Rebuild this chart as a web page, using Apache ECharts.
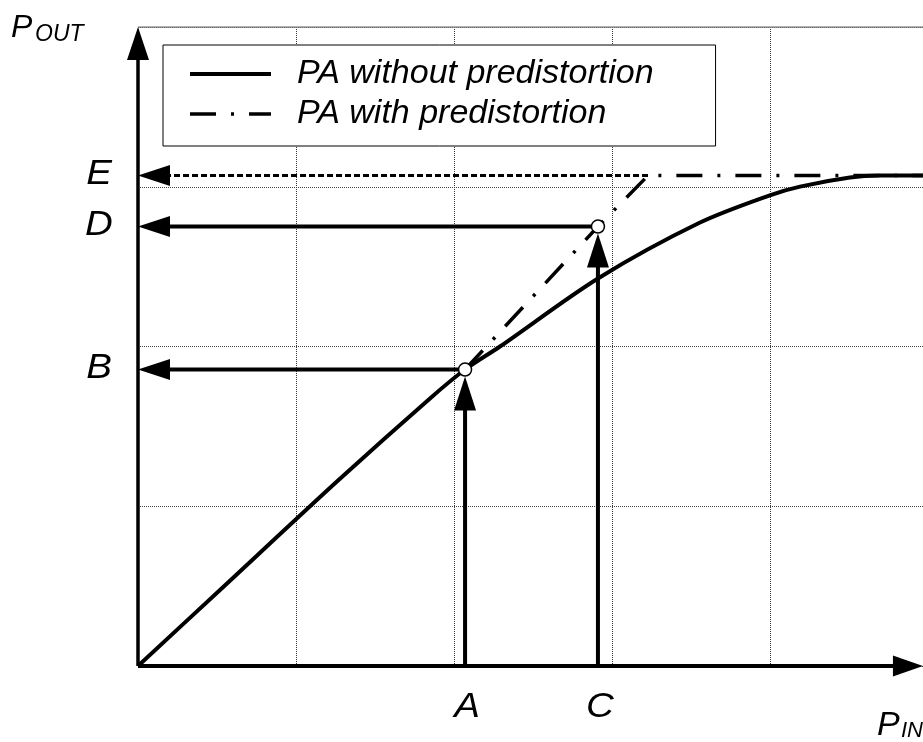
<!DOCTYPE html>
<html><head><meta charset="utf-8">
<script src="https://cdn.jsdelivr.net/npm/echarts@6/dist/echarts.min.js"></script>
<style>html,body{margin:0;padding:0;background:#fff}#c{width:923px;height:742px}</style>
</head><body><div id="c"></div><script>
// ---- data (grid units: one dotted cell = 1) ----
const seriesNames = ['PA without predistortion', 'PA with predistortion'];
const pinWithout  = [0, 0.519, 1.266, 1.848, 2.070, 2.291, 2.911, 3.557, 3.994, 4.190, 4.506, 4.696, 4.968];
const poutWithout = [0, 0.476, 1.161, 1.675, 1.856, 2.000, 2.426, 2.776, 2.945, 3.001, 3.058, 3.070, 3.070];
const pinWith  = [2.070, 2.911, 3.228, 4.968];
const poutWith = [1.856, 2.751, 3.070, 3.070];
const inputMarks  = ['A', 'C'];
const inputLevels = [2.070, 2.911];
const outputMarks  = ['B', 'D', 'E'];
const outputLevels = [1.856, 2.751, 3.070];
const outputFrom   = [2.070, 2.911, 3.228];
const xMax = 5, yMax = 4, xArrowEnd = 4.968;

const zip = (a, b) => a.map((v, i) => [v, b[i]]);

// arrows: axes, vertical input arrows, horizontal output arrows
const arrows = [
  [0, 0, xArrowEnd, 0],
  [0, 0, 0, yMax],
  ...inputLevels.map((x, i) => [x, 0, x, outputLevels[i]]),
  ...outputLevels.map((y, i) => [outputFrom[i], y, 0, y])
];
const arrowStyles = [
  {w: 4,   head: 30, half: 10.5, gap: 0},
  {w: 3.5, head: 33, half: 11,   gap: 0},
  {w: 4,   head: 34, half: 11,   gap: 7},
  {w: 4,   head: 34, half: 11,   gap: 7},
  {w: 4,   head: 32, half: 10.5, gap: 0},
  {w: 4,   head: 32, half: 10.5, gap: 0},
  {w: 3,   head: 32, half: 10.5, gap: 0, dash: [6, 3]}
];

const FONT = '"Liberation Sans", Arial, Helvetica, sans-serif';

function renderArrow(params, api) {
  const s = arrowStyles[params.dataIndex];
  const p1 = api.coord([api.value(0), api.value(1)]);
  const p2 = api.coord([api.value(2), api.value(3)]);
  const dx = p2[0] - p1[0], dy = p2[1] - p1[1];
  const len = Math.hypot(dx, dy), ux = dx / len, uy = dy / len;
  const tip = [p2[0] - ux * s.gap, p2[1] - uy * s.gap];
  const base = [tip[0] - ux * s.head, tip[1] - uy * s.head];
  const nx = -uy, ny = ux;
  return {type: 'group', children: [
    {type: 'line', shape: {x1: p1[0], y1: p1[1], x2: base[0] + ux * 2, y2: base[1] + uy * 2},
     style: {stroke: '#000', lineWidth: s.w, lineDash: s.dash || null, fill: null}},
    {type: 'polygon', shape: {points: [tip, [base[0] + nx * s.half, base[1] + ny * s.half], [base[0] - nx * s.half, base[1] - ny * s.half]]},
     style: {fill: '#000'}}
  ]};
}

const labelData = [
  ...inputLevels.map((x, i) => [x, 0, 0, i]),
  ...outputLevels.map((y, i) => [0, y, 1, i])
];
function renderLabel(params, api) {
  const kind = api.value(2), idx = api.value(3);
  const p = api.coord([api.value(0), api.value(1)]);
  const text = kind === 0 ? inputMarks[idx] : outputMarks[idx];
  const x = kind === 0 ? p[0] + 2 : p[0] - 39;
  const y = kind === 0 ? p[1] + 41 : p[1] - 1;
  return {type: 'text', x: x, y: y, scaleX: 1.1,
    style: {text: text, font: 'italic 35px ' + FONT, fill: '#000', align: 'center', verticalAlign: 'middle'}};
}

const chart = echarts.init(document.getElementById('c'), null, {renderer: 'canvas'});
chart.setOption({
  animation: false,
  backgroundColor: '#fff',
  grid: {left: 138, width: 790, top: 27, bottom: 76, containLabel: false, outerBoundsMode: 'none'},
  xAxis: {type: 'value', min: 0, max: xMax, interval: 1,
    axisLine: {show: false}, axisTick: {show: false}, axisLabel: {show: false},
    splitLine: {show: true, lineStyle: {color: '#333', width: 1, type: [1, 1]}}},
  yAxis: {type: 'value', min: 0, max: yMax, interval: 1,
    axisLine: {show: false}, axisTick: {show: false}, axisLabel: {show: false},
    splitLine: {show: true, lineStyle: {color: '#444', width: 1, type: [1, 1]}}},
  legend: {
    data: seriesNames, orient: 'vertical', left: 163, top: 45,
    backgroundColor: '#fff', borderColor: '#000', borderWidth: 1,
    padding: [12, 62, 15, 25], itemGap: 6, itemWidth: 81, itemHeight: 20,
    selectedMode: false,
    itemStyle: {color: 'rgba(0,0,0,0)', borderWidth: 0, opacity: 0},
    lineStyle: {width: 'inherit'},
    textStyle: {fontSize: 34, fontStyle: 'italic', fontFamily: FONT, color: '#000', padding: [0, 0, 0, 21]}
  },
  graphic: [
    {type: 'text', x: 11, y: 28, style: {text: 'P', font: 'italic 32px ' + FONT, fill: '#000', align: 'left', verticalAlign: 'middle'}},
    {type: 'text', x: 35, y: 35, style: {text: 'OUT', font: 'italic 23px ' + FONT, fill: '#000', align: 'left', verticalAlign: 'middle'}},
    {type: 'text', x: 877, y: 726, style: {text: 'P', font: 'italic 34px ' + FONT, fill: '#000', align: 'left', verticalAlign: 'middle'}},
    {type: 'text', x: 901, y: 731, style: {text: 'IN', font: 'italic 22px ' + FONT, fill: '#000', align: 'left', verticalAlign: 'middle'}}
  ],
  series: [
    {type: 'line', name: 'frame', data: [[0, yMax], [xMax, yMax]], symbol: 'none', silent: true, z: 1,
     lineStyle: {color: '#777', width: 1.5}},
    {type: 'line', name: seriesNames[1], data: zip(pinWith, poutWith), symbol: 'none', z: 2,
     itemStyle: {color: '#000'},
     lineStyle: {color: '#000', width: 3.5, type: [26, 15, 3, 15]}},
    {type: 'line', name: seriesNames[0], data: zip(pinWithout, poutWithout), symbol: 'none', z: 3,
     itemStyle: {color: '#000'},
     smooth: 0.3, lineStyle: {color: '#000', width: 4}},
    {type: 'custom', name: 'arrows', data: arrows, renderItem: renderArrow, z: 4, silent: true,
     encode: {x: [0, 2], y: [1, 3]}},
    {type: 'scatter', name: 'points', data: zip(inputLevels, outputLevels.slice(0, 2)), z: 5,
     symbol: 'circle', symbolSize: 13, silent: true,
     itemStyle: {color: '#fff', borderColor: '#000', borderWidth: 1.5, opacity: 1}},
    {type: 'custom', name: 'labels', data: labelData, renderItem: renderLabel, z: 6, silent: true,
     encode: {x: 0, y: 1}}
  ]
});
</script></body></html>
